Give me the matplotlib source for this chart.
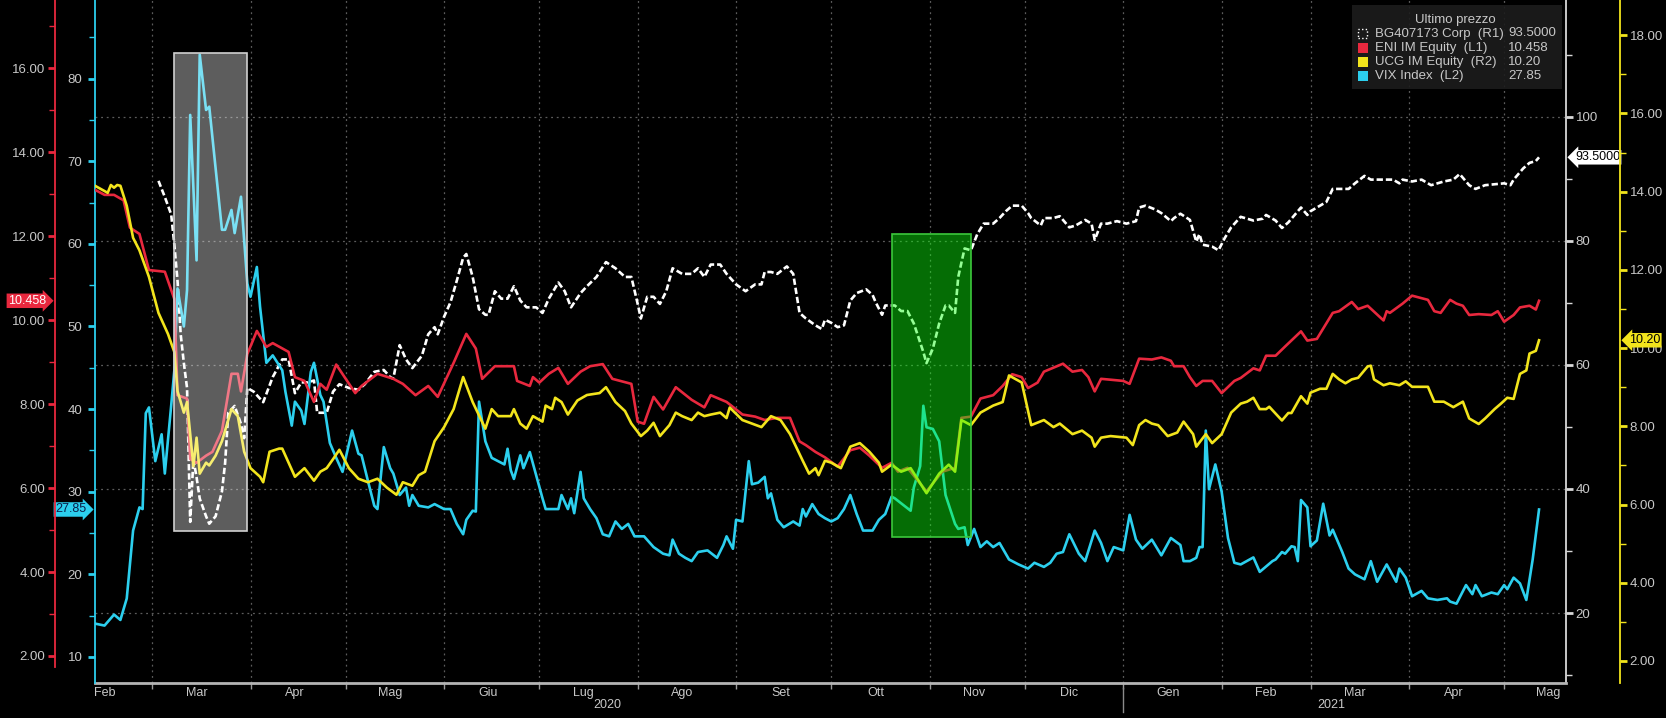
import matplotlib
matplotlib.use('Agg')
import matplotlib.pyplot as plt
import matplotlib.dates as mdates
import matplotlib.transforms as mtransforms
from matplotlib.patches import Rectangle
from matplotlib.ticker import MultipleLocator, FormatStrFormatter, FuncFormatter, NullFormatter
import pandas as pd

plt.rcParams['font.family'] = ['Liberation Sans', 'DejaVu Sans']

# ---------------------------------------------------------------- data
# BG407173 Corp (R1)
bg_dates = ['2020-03-03', '2020-03-05', '2020-03-07', '2020-03-08', '2020-03-09', '2020-03-10', '2020-03-11',
            '2020-03-12', '2020-03-13', '2020-03-14', '2020-03-15', '2020-03-16', '2020-03-18', '2020-03-19',
            '2020-03-21', '2020-03-23', '2020-03-24', '2020-03-25', '2020-03-27', '2020-03-29', '2020-03-30',
            '2020-03-31', '2020-04-02', '2020-04-05', '2020-04-08', '2020-04-11', '2020-04-13', '2020-04-15',
            '2020-04-17', '2020-04-19', '2020-04-21', '2020-04-22', '2020-04-25', '2020-04-27', '2020-04-29',
            '2020-05-02', '2020-05-05', '2020-05-07', '2020-05-10', '2020-05-13', '2020-05-15', '2020-05-16',
            '2020-05-18', '2020-05-20', '2020-05-22', '2020-05-25', '2020-05-27', '2020-05-29', '2020-05-30',
            '2020-06-01', '2020-06-03', '2020-06-05', '2020-06-07', '2020-06-08', '2020-06-10', '2020-06-12',
            '2020-06-14', '2020-06-15', '2020-06-17', '2020-06-19', '2020-06-21', '2020-06-23', '2020-06-25',
            '2020-06-27', '2020-06-30', '2020-07-02', '2020-07-04', '2020-07-07', '2020-07-09', '2020-07-11',
            '2020-07-14', '2020-07-16', '2020-07-19', '2020-07-22', '2020-07-25', '2020-07-28', '2020-07-30',
            '2020-08-01', '2020-08-02', '2020-08-04', '2020-08-06', '2020-08-08', '2020-08-10', '2020-08-12',
            '2020-08-15', '2020-08-18', '2020-08-20', '2020-08-22', '2020-08-24', '2020-08-27', '2020-08-29',
            '2020-09-01', '2020-09-04', '2020-09-07', '2020-09-09', '2020-09-10', '2020-09-12', '2020-09-14',
            '2020-09-17', '2020-09-19', '2020-09-21', '2020-09-23', '2020-09-26', '2020-09-28', '2020-09-29',
            '2020-10-01', '2020-10-03', '2020-10-05', '2020-10-07', '2020-10-09', '2020-10-12', '2020-10-14',
            '2020-10-15', '2020-10-17', '2020-10-18', '2020-10-21', '2020-10-23', '2020-10-25', '2020-10-27',
            '2020-10-30', '2020-10-31', '2020-11-02', '2020-11-04', '2020-11-06', '2020-11-07', '2020-11-09',
            '2020-11-10', '2020-11-12', '2020-11-14', '2020-11-16', '2020-11-18', '2020-11-21', '2020-11-23',
            '2020-11-25', '2020-11-27', '2020-11-30', '2020-12-02', '2020-12-03', '2020-12-06', '2020-12-07',
            '2020-12-10', '2020-12-12', '2020-12-14', '2020-12-15', '2020-12-17', '2020-12-20', '2020-12-22',
            '2020-12-23', '2020-12-25', '2020-12-27', '2020-12-30', '2021-01-02', '2021-01-05', '2021-01-06',
            '2021-01-08', '2021-01-11', '2021-01-13', '2021-01-16', '2021-01-17', '2021-01-19', '2021-01-22',
            '2021-01-24', '2021-01-25', '2021-01-26', '2021-01-29', '2021-01-31', '2021-02-01', '2021-02-02',
            '2021-02-04', '2021-02-07', '2021-02-11', '2021-02-14', '2021-02-15', '2021-02-18', '2021-02-20',
            '2021-02-22', '2021-02-24', '2021-02-26', '2021-02-28', '2021-03-01', '2021-03-04', '2021-03-06',
            '2021-03-08', '2021-03-10', '2021-03-13', '2021-03-15', '2021-03-18', '2021-03-20', '2021-03-24',
            '2021-03-27', '2021-03-29', '2021-03-30', '2021-04-02', '2021-04-05', '2021-04-08', '2021-04-12',
            '2021-04-15', '2021-04-17', '2021-04-20', '2021-04-22', '2021-04-25', '2021-04-27', '2021-05-01',
            '2021-05-03', '2021-05-04', '2021-05-06', '2021-05-07', '2021-05-09', '2021-05-11', '2021-05-12']
bg_px = [89.7, 87.1, 84.3, 79.4, 73.6, 64.95, 60.3,
         56.3, 34.7, 44.8, 41.9, 38.45, 35.6, 34.4,
         35.6, 39.6, 44.2, 52.3, 53.4, 50.5, 48.2,
         56.3, 55.7, 54.0, 58.05, 60.9, 60.9, 55.45,
         57.2, 57.2, 57.5, 52.3, 52.3, 55.7, 56.9,
         56.3, 56.0, 56.9, 58.9, 59.2, 58.05, 57.8,
         63.2, 60.9, 59.5, 61.5, 64.95, 66.1, 64.95,
         67.8, 70.1, 73.6, 77.3, 77.9, 74.2, 69.0,
         68.1, 68.1, 71.9, 70.7, 70.7, 72.7, 70.4,
         69.3, 69.3, 68.4, 70.7, 73.3, 71.9, 69.3,
         71.6, 72.7, 74.2, 76.6, 75.6, 74.2, 74.2,
         69.85, 67.5, 71.0, 71.0, 69.85, 71.9, 75.6,
         74.7, 74.7, 75.6, 74.2, 76.2, 76.2, 74.7,
         73.0, 71.9, 73.0, 73.0, 75.0, 75.0, 74.7,
         75.9, 74.7, 68.4, 67.5, 66.4, 65.8, 67.3,
         66.8, 66.1, 66.4, 70.4, 71.6, 72.2, 71.3,
         70.1, 68.1, 69.6, 69.6, 68.7, 68.7, 66.7,
         62.1, 60.3, 62.65, 66.7, 69.6, 69.6, 68.4,
         74.2, 78.8, 78.5, 81.1, 82.8, 82.8, 83.7,
         84.8, 85.7, 85.7, 84.5, 83.7, 82.5, 83.7,
         83.7, 84.0, 82.8, 82.2, 82.5, 83.4, 82.8,
         80.2, 82.8, 82.8, 83.2, 82.8, 83.2, 85.4,
         85.7, 85.1, 84.5, 83.2, 83.7, 84.4, 83.4,
         79.9, 81.1, 79.4, 79.1, 78.5, 79.5, 80.5,
         82.2, 83.9, 83.3, 83.6, 84.2, 83.3, 82.1,
         83.0, 84.2, 85.4, 84.2, 84.8, 85.7, 86.3,
         88.4, 88.4, 88.4, 89.3, 90.5, 89.9, 89.9,
         89.9, 89.3, 89.9, 89.6, 89.9, 89.0, 89.6,
         89.9, 90.8, 89.0, 88.4, 89.0, 89.1, 89.3,
         89.0, 89.9, 91.1, 91.7, 92.6, 92.9, 93.5]

# ENI IM Equity (L1)
eni_dates = ['2020-02-12', '2020-02-15', '2020-02-18', '2020-02-21', '2020-02-23', '2020-02-26', '2020-02-29',
             '2020-03-05', '2020-03-08', '2020-03-09', '2020-03-12', '2020-03-13', '2020-03-15', '2020-03-18',
             '2020-03-20', '2020-03-23', '2020-03-26', '2020-03-28', '2020-03-29', '2020-03-31', '2020-04-03',
             '2020-04-06', '2020-04-08', '2020-04-13', '2020-04-15', '2020-04-18', '2020-04-21', '2020-04-23',
             '2020-04-25', '2020-04-28', '2020-05-04', '2020-05-06', '2020-05-11', '2020-05-16', '2020-05-19',
             '2020-05-23', '2020-05-27', '2020-05-30', '2020-06-04', '2020-06-08', '2020-06-11', '2020-06-13',
             '2020-06-17', '2020-06-19', '2020-06-23', '2020-06-24', '2020-06-28', '2020-06-29', '2020-07-01',
             '2020-07-04', '2020-07-07', '2020-07-10', '2020-07-14', '2020-07-17', '2020-07-21', '2020-07-24',
             '2020-07-30', '2020-08-01', '2020-08-03', '2020-08-06', '2020-08-09', '2020-08-13', '2020-08-18',
             '2020-08-22', '2020-08-24', '2020-08-29', '2020-09-03', '2020-09-07', '2020-09-10', '2020-09-14',
             '2020-09-18', '2020-09-21', '2020-09-23', '2020-09-26', '2020-09-29', '2020-10-03', '2020-10-07',
             '2020-10-10', '2020-10-13', '2020-10-17', '2020-10-20', '2020-10-22', '2020-10-25', '2020-10-31',
             '2020-11-05', '2020-11-09', '2020-11-11', '2020-11-14', '2020-11-17', '2020-11-21', '2020-11-24',
             '2020-11-27', '2020-11-30', '2020-12-02', '2020-12-05', '2020-12-07', '2020-12-13', '2020-12-16',
             '2020-12-19', '2020-12-21', '2020-12-23', '2020-12-25', '2021-01-01', '2021-01-03', '2021-01-06',
             '2021-01-10', '2021-01-13', '2021-01-16', '2021-01-17', '2021-01-20', '2021-01-22', '2021-01-24',
             '2021-01-26', '2021-01-29', '2021-02-01', '2021-02-05', '2021-02-07', '2021-02-11', '2021-02-13',
             '2021-02-15', '2021-02-18', '2021-02-21', '2021-02-26', '2021-02-28', '2021-03-03', '2021-03-08',
             '2021-03-10', '2021-03-14', '2021-03-16', '2021-03-19', '2021-03-24', '2021-03-25', '2021-03-26',
             '2021-03-30', '2021-04-02', '2021-04-07', '2021-04-09', '2021-04-11', '2021-04-14', '2021-04-16',
             '2021-04-18', '2021-04-20', '2021-04-23', '2021-04-27', '2021-04-29', '2021-05-01', '2021-05-04',
             '2021-05-06', '2021-05-09', '2021-05-11', '2021-05-12']
eni_px = [13.10, 12.98, 12.98, 12.85, 12.20, 12.05, 11.19,
          11.15, 10.50, 8.21, 8.13, 6.69, 6.60, 6.77,
          6.86, 7.36, 8.72, 8.72, 8.30, 9.19, 9.74,
          9.36, 9.45, 9.24, 8.64, 8.55, 8.05, 8.48,
          8.34, 8.94, 8.26, 8.43, 8.72, 8.60, 8.48,
          8.21, 8.43, 8.17, 8.98, 9.67, 9.32, 8.60,
          8.90, 8.90, 8.90, 8.55, 8.43, 8.64, 8.51,
          8.72, 8.86, 8.48, 8.77, 8.90, 8.95, 8.60,
          8.48, 7.58, 7.53, 8.17, 7.87, 8.40, 8.10,
          7.92, 8.21, 8.05, 7.75, 7.70, 7.62, 7.67,
          7.67, 7.11, 7.02, 6.86, 6.73, 6.51, 6.90,
          6.96, 6.77, 6.48, 6.60, 6.39, 6.48, 5.92,
          6.39, 6.48, 7.67, 7.70, 8.13, 8.21, 8.43,
          8.71, 8.64, 8.38, 8.51, 8.77, 8.96, 8.77,
          8.81, 8.64, 8.30, 8.60, 8.55, 8.48, 9.08,
          9.06, 9.11, 9.03, 8.90, 8.90, 8.64, 8.43,
          8.55, 8.55, 8.26, 8.55, 8.62, 8.85, 8.80,
          9.15, 9.15, 9.37, 9.73, 9.51, 9.55, 10.17,
          10.21, 10.43, 10.26, 10.34, 9.99, 10.21, 10.17,
          10.39, 10.58, 10.48, 10.21, 10.17, 10.48, 10.39,
          10.34, 10.12, 10.14, 10.12, 10.21, 9.96, 10.12,
          10.30, 10.34, 10.25, 10.458]

# UCG IM Equity (R2)
ucg_dates = ['2020-02-12', '2020-02-14', '2020-02-16', '2020-02-17', '2020-02-18', '2020-02-19', '2020-02-20',
             '2020-02-22', '2020-02-24', '2020-02-26', '2020-02-29', '2020-03-03', '2020-03-06', '2020-03-08',
             '2020-03-09', '2020-03-11', '2020-03-12', '2020-03-14', '2020-03-15', '2020-03-16', '2020-03-18',
             '2020-03-19', '2020-03-21', '2020-03-23', '2020-03-24', '2020-03-26', '2020-03-28', '2020-03-30',
             '2020-04-01', '2020-04-04', '2020-04-05', '2020-04-07', '2020-04-10', '2020-04-11', '2020-04-15',
             '2020-04-18', '2020-04-21', '2020-04-23', '2020-04-25', '2020-04-27', '2020-04-29', '2020-05-02',
             '2020-05-05', '2020-05-08', '2020-05-11', '2020-05-14', '2020-05-17', '2020-05-19', '2020-05-22',
             '2020-05-24', '2020-05-26', '2020-05-29', '2020-06-01', '2020-06-04', '2020-06-07', '2020-06-10',
             '2020-06-14', '2020-06-16', '2020-06-18', '2020-06-22', '2020-06-23', '2020-06-25', '2020-06-27',
             '2020-06-29', '2020-07-02', '2020-07-03', '2020-07-05', '2020-07-06', '2020-07-08', '2020-07-10',
             '2020-07-13', '2020-07-16', '2020-07-20', '2020-07-22', '2020-07-25', '2020-07-28', '2020-07-30',
             '2020-08-02', '2020-08-04', '2020-08-06', '2020-08-08', '2020-08-11', '2020-08-13', '2020-08-15',
             '2020-08-18', '2020-08-20', '2020-08-22', '2020-08-24', '2020-08-27', '2020-08-29', '2020-08-30',
             '2020-09-03', '2020-09-06', '2020-09-09', '2020-09-12', '2020-09-15', '2020-09-18', '2020-09-22',
             '2020-09-24', '2020-09-26', '2020-09-27', '2020-09-29', '2020-10-01', '2020-10-04', '2020-10-07',
             '2020-10-10', '2020-10-13', '2020-10-16', '2020-10-17', '2020-10-20', '2020-10-23', '2020-10-26',
             '2020-10-31', '2020-11-04', '2020-11-07', '2020-11-09', '2020-11-11', '2020-11-14', '2020-11-17',
             '2020-11-21', '2020-11-24', '2020-11-26', '2020-11-30', '2020-12-03', '2020-12-07', '2020-12-10',
             '2020-12-12', '2020-12-16', '2020-12-19', '2020-12-22', '2020-12-23', '2020-12-25', '2020-12-28',
             '2021-01-02', '2021-01-04', '2021-01-06', '2021-01-08', '2021-01-10', '2021-01-12', '2021-01-15',
             '2021-01-18', '2021-01-20', '2021-01-23', '2021-01-24', '2021-01-27', '2021-01-29', '2021-02-01',
             '2021-02-04', '2021-02-07', '2021-02-09', '2021-02-11', '2021-02-13', '2021-02-15', '2021-02-16',
             '2021-02-20', '2021-02-22', '2021-02-23', '2021-02-26', '2021-02-28', '2021-03-01', '2021-03-04',
             '2021-03-06', '2021-03-08', '2021-03-10', '2021-03-12', '2021-03-14', '2021-03-16', '2021-03-19',
             '2021-03-20', '2021-03-21', '2021-03-24', '2021-03-26', '2021-03-29', '2021-03-31', '2021-04-02',
             '2021-04-07', '2021-04-09', '2021-04-12', '2021-04-15', '2021-04-18', '2021-04-20', '2021-04-23',
             '2021-04-25', '2021-04-28', '2021-04-30', '2021-05-02', '2021-05-04', '2021-05-06', '2021-05-08',
             '2021-05-09', '2021-05-11', '2021-05-12']
ucg_px = [14.15, 14.06, 13.97, 14.17, 14.10, 14.17, 14.15,
          13.64, 12.82, 12.50, 11.82, 10.90, 10.36, 9.90,
          8.90, 8.35, 8.62, 6.98, 7.71, 6.79, 7.07,
          7.00, 7.25, 7.62, 7.89, 8.44, 8.26, 7.35,
          6.93, 6.71, 6.57, 7.35, 7.43, 7.43, 6.71,
          6.93, 6.61, 6.84, 6.93, 7.16, 7.40, 6.93,
          6.66, 6.57, 6.66, 6.43, 6.25, 6.57, 6.48,
          6.75, 6.84, 7.62, 7.98, 8.44, 9.26, 8.62,
          7.94, 8.44, 8.26, 8.26, 8.44, 8.07, 7.94,
          8.26, 8.12, 8.53, 8.44, 8.73, 8.62, 8.30,
          8.66, 8.80, 8.85, 9.00, 8.62, 8.39, 8.07,
          7.75, 7.89, 8.09, 7.75, 8.03, 8.35, 8.26,
          8.16, 8.35, 8.26, 8.30, 8.35, 8.21, 8.48,
          8.16, 8.07, 7.98, 8.26, 8.16, 7.80, 7.12,
          6.79, 6.93, 6.75, 7.12, 7.07, 6.93, 7.48,
          7.57, 7.35, 7.07, 6.84, 7.02, 6.84, 6.93,
          6.29, 6.79, 7.02, 6.84, 8.16, 8.03, 8.35,
          8.53, 8.62, 9.30, 9.12, 8.03, 8.16, 7.98,
          8.07, 7.80, 7.89, 7.71, 7.48, 7.71, 7.75,
          7.71, 7.52, 8.03, 8.16, 8.07, 8.03, 7.75,
          7.84, 8.12, 7.80, 7.48, 7.80, 7.57, 7.80,
          8.35, 8.58, 8.63, 8.73, 8.44, 8.44, 8.50,
          8.15, 8.34, 8.34, 8.77, 8.58, 8.86, 8.96,
          8.96, 9.34, 9.20, 9.10, 9.20, 9.24, 9.53,
          9.55, 9.20, 9.05, 9.10, 9.05, 9.15, 9.01,
          9.01, 8.63, 8.63, 8.49, 8.63, 8.20, 8.06,
          8.20, 8.44, 8.58, 8.73, 8.70, 9.34, 9.43,
          9.86, 9.93, 10.20]

# VIX Index (L2)
vix_dates = ['2020-02-12', '2020-02-15', '2020-02-18', '2020-02-20', '2020-02-22', '2020-02-24', '2020-02-26',
             '2020-02-27', '2020-02-28', '2020-02-29', '2020-03-02', '2020-03-04', '2020-03-05', '2020-03-07',
             '2020-03-08', '2020-03-09', '2020-03-11', '2020-03-12', '2020-03-13', '2020-03-15', '2020-03-16',
             '2020-03-18', '2020-03-19', '2020-03-23', '2020-03-24', '2020-03-26', '2020-03-27', '2020-03-29',
             '2020-03-31', '2020-04-01', '2020-04-03', '2020-04-04', '2020-04-05', '2020-04-06', '2020-04-08',
             '2020-04-11', '2020-04-12', '2020-04-14', '2020-04-15', '2020-04-17', '2020-04-18', '2020-04-20',
             '2020-04-21', '2020-04-23', '2020-04-24', '2020-04-26', '2020-04-28', '2020-04-30', '2020-05-01',
             '2020-05-03', '2020-05-05', '2020-05-06', '2020-05-08', '2020-05-10', '2020-05-11', '2020-05-13',
             '2020-05-15', '2020-05-16', '2020-05-18', '2020-05-20', '2020-05-21', '2020-05-22', '2020-05-24',
             '2020-05-27', '2020-05-29', '2020-06-01', '2020-06-03', '2020-06-05', '2020-06-07', '2020-06-08',
             '2020-06-10', '2020-06-11', '2020-06-12', '2020-06-14', '2020-06-16', '2020-06-18', '2020-06-20',
             '2020-06-21', '2020-06-22', '2020-06-23', '2020-06-25', '2020-06-26', '2020-06-28', '2020-06-30',
             '2020-07-02', '2020-07-03', '2020-07-07', '2020-07-08', '2020-07-10', '2020-07-11', '2020-07-12',
             '2020-07-14', '2020-07-15', '2020-07-17', '2020-07-19', '2020-07-21', '2020-07-23', '2020-07-25',
             '2020-07-27', '2020-07-29', '2020-07-31', '2020-08-03', '2020-08-06', '2020-08-09', '2020-08-11',
             '2020-08-12', '2020-08-14', '2020-08-16', '2020-08-18', '2020-08-20', '2020-08-23', '2020-08-26',
             '2020-08-28', '2020-08-29', '2020-08-31', '2020-09-01', '2020-09-03', '2020-09-05', '2020-09-06',
             '2020-09-08', '2020-09-10', '2020-09-11', '2020-09-12', '2020-09-14', '2020-09-16', '2020-09-19',
             '2020-09-21', '2020-09-22', '2020-09-23', '2020-09-25', '2020-09-27', '2020-09-29', '2020-10-01',
             '2020-10-03', '2020-10-05', '2020-10-07', '2020-10-09', '2020-10-11', '2020-10-14', '2020-10-16',
             '2020-10-18', '2020-10-20', '2020-10-21', '2020-10-24', '2020-10-26', '2020-10-27', '2020-10-29',
             '2020-10-30', '2020-10-31', '2020-11-02', '2020-11-04', '2020-11-06', '2020-11-09', '2020-11-10',
             '2020-11-12', '2020-11-13', '2020-11-15', '2020-11-17', '2020-11-19', '2020-11-21', '2020-11-23',
             '2020-11-26', '2020-11-29', '2020-12-02', '2020-12-04', '2020-12-07', '2020-12-09', '2020-12-11',
             '2020-12-13', '2020-12-15', '2020-12-18', '2020-12-20', '2020-12-23', '2020-12-25', '2020-12-27',
             '2020-12-29', '2021-01-01', '2021-01-03', '2021-01-05', '2021-01-07', '2021-01-10', '2021-01-13',
             '2021-01-16', '2021-01-19', '2021-01-20', '2021-01-22', '2021-01-24', '2021-01-25', '2021-01-26',
             '2021-01-27', '2021-01-28', '2021-01-30', '2021-02-01', '2021-02-03', '2021-02-05', '2021-02-07',
             '2021-02-11', '2021-02-13', '2021-02-17', '2021-02-18', '2021-02-20', '2021-02-21', '2021-02-23',
             '2021-02-24', '2021-02-25', '2021-02-26', '2021-02-28', '2021-03-01', '2021-03-03', '2021-03-05',
             '2021-03-07', '2021-03-08', '2021-03-11', '2021-03-13', '2021-03-15', '2021-03-18', '2021-03-20',
             '2021-03-22', '2021-03-25', '2021-03-28', '2021-03-29', '2021-03-31', '2021-04-02', '2021-04-05',
             '2021-04-07', '2021-04-10', '2021-04-13', '2021-04-14', '2021-04-16', '2021-04-19', '2021-04-21',
             '2021-04-22', '2021-04-24', '2021-04-27', '2021-04-29', '2021-05-01', '2021-05-02', '2021-05-04',
             '2021-05-06', '2021-05-08', '2021-05-10', '2021-05-12']
vix_px = [14.04, 13.80, 15.13, 14.48, 17.07, 25.30, 28.10,
          27.90, 39.50, 40.20, 33.70, 36.95, 32.20, 40.40,
          44.70, 54.60, 50.00, 54.40, 75.60, 58.00, 82.90,
          76.20, 76.60, 61.70, 61.70, 64.10, 61.30, 65.70,
          55.20, 53.60, 57.20, 52.40, 49.05, 45.60, 46.50,
          44.70, 42.10, 38.00, 40.90, 39.80, 38.20, 44.50,
          45.60, 41.70, 40.90, 35.90, 34.10, 32.40, 34.10,
          37.40, 34.60, 34.40, 31.30, 28.30, 27.90, 35.40,
          32.85, 32.20, 29.60, 30.50, 28.30, 29.60, 28.30,
          28.10, 28.50, 27.90, 27.90, 26.10, 24.85, 26.60,
          27.70, 27.60, 40.90, 36.10, 34.10, 33.70, 33.30,
          35.20, 32.60, 31.55, 34.40, 32.85, 34.80, 32.00,
          29.20, 27.90, 27.90, 29.60, 27.90, 29.20, 27.40,
          32.40, 29.20, 27.90, 26.80, 24.85, 24.60, 26.40,
          25.50, 26.10, 24.60, 24.60, 23.30, 22.50, 22.30,
          24.20, 22.50, 22.00, 21.60, 22.70, 22.90, 22.00,
          23.55, 24.60, 23.10, 26.60, 26.40, 33.70, 30.90,
          31.10, 31.80, 29.20, 29.80, 26.60, 25.70, 26.40,
          25.90, 27.90, 27.00, 28.50, 27.30, 26.80, 26.40,
          26.80, 27.90, 29.60, 27.30, 25.30, 25.30, 26.60,
          27.30, 29.40, 29.20, 28.30, 27.70, 30.50, 33.10,
          40.40, 37.80, 37.60, 36.10, 29.60, 26.10, 25.50,
          25.70, 23.55, 25.50, 23.30, 24.00, 23.30, 23.80,
          21.80, 21.20, 20.70, 21.40, 20.90, 21.40, 22.50,
          22.70, 24.85, 22.50, 21.60, 25.30, 23.80, 21.60,
          23.30, 22.90, 27.20, 24.20, 23.10, 24.20, 22.30,
          24.40, 23.55, 21.60, 21.60, 22.00, 23.30, 23.30,
          37.40, 30.30, 33.30, 30.00, 24.40, 21.40, 21.20,
          22.05, 20.30, 21.60, 21.80, 22.70, 22.50, 23.40,
          23.30, 21.60, 29.00, 28.10, 23.40, 24.10, 28.55,
          24.70, 25.40, 22.70, 20.70, 20.00, 19.40, 21.60,
          19.10, 21.20, 19.10, 20.70, 19.60, 17.35, 18.00,
          17.10, 16.90, 17.10, 16.70, 16.45, 18.70, 17.60,
          18.70, 17.35, 17.80, 17.60, 18.70, 18.20, 19.60,
          18.90, 16.90, 21.80, 27.85]

# highlighted windows (dates, VIX-axis range)
box_grey = ('2020-03-08', '2020-03-31', 25.3, 83.1)
box_green = ('2020-10-20', '2020-11-14', 24.5, 61.2)

mesi = ['Gen', 'Feb', 'Mar', 'Apr', 'Mag', 'Giu', 'Lug', 'Ago', 'Set', 'Ott', 'Nov', 'Dic']

legend_rows = [('BG407173 Corp  (R1)', '93.5000'),
               ('ENI IM Equity  (L1)', '10.458'),
               ('UCG IM Equity  (R2)', '10.20'),
               ('VIX Index  (L2)', '27.85')]

# ---------------------------------------------------------------- style
C_ENI = '#e8283e'
C_UCG = '#f2e41c'
C_VIX = '#2ccfee'
C_BG = '#ffffff'
C_TXT = '#c8c8c8'
W, H = 1666, 718

fig = plt.figure(figsize=(W / 100, H / 100), dpi=100, facecolor='black')
ax = fig.add_axes([95 / W, 35 / H, 1471 / W, 683 / H])   # BG on R1, carries the x axis
ax.set_facecolor('black')
ax_vix = ax.twinx()
ax_eni = ax.twinx()
ax_ucg = ax.twinx()

ax.plot(pd.to_datetime(bg_dates), bg_px, color=C_BG, lw=1.9, dashes=(2.4, 1.1))
ax_vix.plot(pd.to_datetime(vix_dates), vix_px, color=C_VIX, lw=1.9)
ax_eni.plot(pd.to_datetime(eni_dates), eni_px, color=C_ENI, lw=1.9)
ax_ucg.plot(pd.to_datetime(ucg_dates), ucg_px, color=C_UCG, lw=1.9)

ax.set_xlim(pd.Timestamp('2020-02-12'), pd.Timestamp('2021-05-20 12:00'))
ax.set_ylim(8.71, 118.87)
ax_vix.set_ylim(6.85, 89.51)
ax_eni.set_ylim(1.357, 17.62)
ax_ucg.set_ylim(1.437, 18.9)

for a in (ax, ax_vix, ax_eni, ax_ucg):
    for s in a.spines.values():
        s.set_visible(False)

# R1 axis (BG)
ax.yaxis.tick_right()
ax.spines['right'].set_visible(True)
ax.spines['right'].set_color('#d8d8d8')
ax.spines['right'].set_linewidth(1.3)
ax.spines['bottom'].set_visible(True)
ax.spines['bottom'].set_color('#b4b4b4')
ax.spines['bottom'].set_linewidth(2)
ax.yaxis.set_major_locator(MultipleLocator(20))
ax.yaxis.set_minor_locator(MultipleLocator(10))
ax.yaxis.set_major_formatter(FormatStrFormatter('%d'))
ax.tick_params(axis='y', which='major', colors='#d8d8d8', labelcolor=C_TXT, length=5, width=2, pad=2, labelsize=9.5)
ax.tick_params(axis='y', which='minor', colors='#d8d8d8', length=4, width=1)

# L2 axis (VIX)
ax_vix.yaxis.tick_left()
ax_vix.spines['left'].set_visible(True)
ax_vix.spines['left'].set_color(C_VIX)
ax_vix.spines['left'].set_linewidth(1.3)
ax_vix.yaxis.set_major_locator(MultipleLocator(10))
ax_vix.yaxis.set_minor_locator(MultipleLocator(5))
ax_vix.yaxis.set_major_formatter(FormatStrFormatter('%d'))
ax_vix.tick_params(axis='y', which='major', colors=C_VIX, labelcolor=C_TXT, length=5, width=2, pad=4, labelsize=9.5)
ax_vix.tick_params(axis='y', which='minor', colors=C_VIX, length=4, width=1)

# L1 axis (ENI)
ax_eni.yaxis.tick_left()
ax_eni.spines['left'].set_visible(True)
ax_eni.spines['left'].set_position(('axes', -0.0272))
ax_eni.spines['left'].set_color(C_ENI)
ax_eni.spines['left'].set_linewidth(1.3)
ax_eni.spines['left'].set_bounds(1.74, 17.62)
ax_eni.yaxis.set_major_locator(MultipleLocator(2))
ax_eni.yaxis.set_minor_locator(MultipleLocator(1))
ax_eni.yaxis.set_major_formatter(FormatStrFormatter('%.2f'))
ax_eni.tick_params(axis='y', which='major', colors=C_ENI, labelcolor=C_TXT, length=5, width=2, pad=2, labelsize=9.5)
ax_eni.tick_params(axis='y', which='minor', colors=C_ENI, length=4, width=1)

# R2 axis (UCG)
ax_ucg.spines['right'].set_visible(True)
ax_ucg.spines['right'].set_position(('axes', 1.0367))
ax_ucg.spines['right'].set_color(C_UCG)
ax_ucg.spines['right'].set_linewidth(1.3)
ax_ucg.yaxis.set_major_locator(MultipleLocator(2))
ax_ucg.yaxis.set_minor_locator(MultipleLocator(1))
ax_ucg.yaxis.set_major_formatter(FormatStrFormatter('%.2f'))
ax_ucg.tick_params(axis='y', which='major', colors=C_UCG, labelcolor=C_TXT, length=5, width=2, pad=2, labelsize=9.5)
ax_ucg.tick_params(axis='y', which='minor', colors=C_UCG, length=4, width=1)

# x axis: month starts as ticks/grid, month names centred mid-month
ax.xaxis.set_major_locator(mdates.MonthLocator())
ax.xaxis.set_major_formatter(NullFormatter())
ax.xaxis.set_minor_locator(mdates.MonthLocator(bymonthday=15))
ax.xaxis.set_minor_formatter(FuncFormatter(lambda v, p: mesi[mdates.num2date(v).month - 1]))
ax.tick_params(axis='x', which='major', colors='#9a9a9a', length=4, width=1)
ax.tick_params(axis='x', which='minor', length=0, pad=3, labelsize=9, labelcolor=C_TXT)
ax.grid(True, which='major', axis='both', ls=(0, (1.5, 3)), color='#5c5c5c', lw=0.9)

# years under the months
first = pd.Timestamp('2020-02-12')
last = pd.Timestamp('2021-05-12')
xtr = mtransforms.blended_transform_factory(ax.transData, ax.transAxes)
for yr in (2020, 2021):
    a0 = max(first, pd.Timestamp(f'{yr}-01-01'))
    a1 = min(last, pd.Timestamp(f'{yr}-12-31'))
    ax.text(a0 + (a1 - a0) / 2, -0.0325, str(yr), transform=xtr, ha='center', va='center',
            fontsize=9, color=C_TXT)
ax.plot([pd.Timestamp('2021-01-01')] * 2, [-0.008, -0.043], transform=xtr, color='#8a8a8a',
        lw=1, clip_on=False)

# highlighted windows, drawn on the top axes so they tint the lines
for (d0, d1, y0, y1), fc, ec in ((box_grey, (1, 1, 1, 0.37), '#d0d0d0'),
                                  (box_green, (0.05, 1.0, 0.05, 0.43), '#3cc83c')):
    x0, x1 = mdates.date2num(pd.Timestamp(d0)), mdates.date2num(pd.Timestamp(d1))
    ax_ucg.add_patch(Rectangle((x0, y0), x1 - x0, y1 - y0, transform=ax_vix.transData,
                               facecolor=fc, edgecolor=ec, lw=1.2, zorder=5))


# last-price tags on the axes
def tag(a, xs, y, text, fc, tc, style, dx, ha):
    tr = mtransforms.blended_transform_factory(a.transAxes, a.transData)
    a.annotate(text, xy=(xs, y), xycoords=tr, xytext=(dx, 0), textcoords='offset pixels',
               ha=ha, va='center', fontsize=9, color=tc, annotation_clip=False, zorder=10,
               bbox=dict(boxstyle=style + ',pad=0.1', fc=fc, ec='none'))


tag(ax_eni, -0.0272, eni_px[-1], '10.458', C_ENI, 'white', 'rarrow', -9, 'right')
tag(ax_vix, 0.0, vix_px[-1], '27.85', C_VIX, '#0b1f4a', 'rarrow', -9, 'right')
tag(ax, 1.0, bg_px[-1], '93.5000', 'white', 'black', 'larrow', 9, 'left')
tag(ax_ucg, 1.0367, ucg_px[-1], '10.20', C_UCG, 'black', 'larrow', 9, 'left')

# legend box (top right)
fig.add_artist(Rectangle((1352 / W, 1 - 89 / H), 210 / W, 84 / H, transform=fig.transFigure,
                         facecolor=(0.11, 0.11, 0.11, 0.9), edgecolor='none', zorder=20))
fig.text(1455 / W, 1 - 20 / H, 'Ultimo prezzo', ha='center', va='center', fontsize=9.5, color=C_TXT, zorder=21)
for i, ((name, val), col) in enumerate(zip(legend_rows, [C_BG, C_ENI, C_UCG, C_VIX])):
    yc = 33.5 + i * 14.3
    if i == 0:
        sq = Rectangle((1358 / W, 1 - (yc + 4.5) / H), 9 / W, 9 / H, transform=fig.transFigure,
                       facecolor='none', edgecolor=col, lw=1, ls=':', zorder=21)
    else:
        sq = Rectangle((1358 / W, 1 - (yc + 5) / H), 10 / W, 10 / H, transform=fig.transFigure,
                       facecolor=col, edgecolor='none', zorder=21)
    fig.add_artist(sq)
    fig.text(1375 / W, 1 - yc / H, name, ha='left', va='center', fontsize=9.5, color=C_TXT, zorder=21)
    fig.text(1508 / W, 1 - yc / H, val, ha='left', va='center', fontsize=9.5, color=C_TXT, zorder=21)

fig.savefig('out.png', dpi=100, facecolor='black')
